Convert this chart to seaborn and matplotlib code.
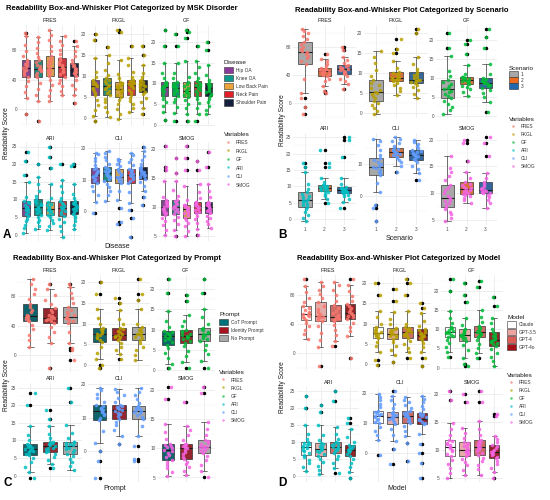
import numpy as np
import pandas as pd
import seaborn as sns
import matplotlib.pyplot as plt
from matplotlib.patches import Patch
from matplotlib.lines import Line2D

sns.set_theme(style="white")
plt.rcParams["font.family"] = ["Liberation Sans", "DejaVu Sans"]
np.random.seed(3)

# Readability measures (facets) and their colours
variables = ["FRES", "FKGL", "GF", "ARI", "CLI", "SMOG"]
var_colors = ["#F8766D", "#B79F00", "#00BA38", "#00BFC4", "#619CFF", "#F564E3"]

# y axis breaks per measure
fres_ticks = [0, 40, 80]
fkgl_ticks = [0, 5, 10, 15, 20]
gf_ticks = [0, 5, 10, 15, 20]
ari_ticks = [0, 5, 10, 15, 20, 25]
cli_ticks = [0, 10, 20]
smog_ticks = [5, 10, 15, 20]

# ---------------- A: MSK disorder ----------------
disease_groups = ["Hip OA", "Knee OA", "Low Back Pain", "Neck Pain", "Shoulder Pain"]
disease_colors = ["#8B3A9C", "#0E9A8A", "#EBA53A", "#E3202A", "#15203F"]
disease_fres = [
    [-6, 16, 24, 31, 38, 43, 46, 49, 51, 53, 55, 57, 59, 61, 63, 66, 71, 78, 86, 99, 103],
    [-16, 12, 20, 28, 36, 43, 46, 49, 51, 52.5, 54, 56, 58, 60, 63, 66, 70, 76, 83, 90, 97],
    [11, 18, 26, 33, 40, 45, 48, 50, 52, 54, 56, 59, 62, 65, 68, 72, 78, 85, 93, 100, 107],
    [20, 25, 31, 36, 40, 44, 47, 50, 52, 55, 57, 59, 61, 63, 66, 69, 74, 80, 86, 92, 98],
    [9, 20, 27, 33, 39, 45, 47, 49, 50, 51.5, 53, 54.5, 56, 58, 60, 62, 66, 72, 78, 85, 92],
]
disease_fkgl = [
    [-0.8, 0.5, 2, 3.2, 4.4, 5.4, 6, 6.5, 6.9, 7.2, 7.5, 7.8, 8.1, 8.4, 8.7, 9, 9.8, 11, 14.2, 18.5, 20],
    [0.3, 1.5, 2.7, 3.8, 4.6, 5.4, 6, 6.5, 6.9, 7.2, 7.5, 7.9, 8.3, 8.7, 9.1, 9.4, 10.2, 11.5, 13, 15, 16.8],
    [-0.3, 1, 2.2, 3.3, 4.2, 5, 5.5, 6, 6.4, 6.7, 7, 7.3, 7.6, 7.9, 8.3, 8.6, 9.4, 10.5, 13.8, 20.5, 21],
    [1.5, 2.5, 3.3, 4, 4.7, 5.4, 6.1, 6.7, 7.1, 7.5, 7.8, 8, 8.3, 8.5, 8.8, 9, 9.8, 11, 12.5, 14.2, 17],
    [1, 2.5, 3.8, 4.8, 5.6, 6.2, 6.7, 7, 7.3, 7.6, 7.8, 8, 8.2, 8.5, 8.8, 9, 9.7, 10.8, 12.5, 15, 17],
]
disease_gf = [
    [1.2, 3, 4.5, 5.5, 6.3, 7, 7.6, 8.1, 8.5, 8.8, 9.1, 9.3, 9.6, 9.9, 10.1, 10.3, 11.2, 12.5, 15, 19, 23],
    [1, 2.8, 4.3, 5.4, 6.3, 7, 7.5, 7.9, 8.2, 8.5, 8.8, 9.1, 9.4, 9.7, 10, 10.3, 11.2, 12.6, 15, 19, 22],
    [1, 2.6, 4, 5, 5.9, 6.6, 7.1, 7.5, 7.8, 8, 8.2, 8.5, 8.9, 9.4, 9.9, 10.3, 11.5, 15.5, 21, 22.5, 23],
    [0.8, 2.5, 4, 5.2, 6.2, 7, 7.6, 8.1, 8.5, 8.8, 9, 9.3, 9.6, 9.9, 10.2, 10.5, 11.4, 12.6, 14, 15.5, 19],
    [2.5, 3.6, 4.6, 5.5, 6.3, 7, 7.5, 7.9, 8.2, 8.5, 8.8, 9, 9.3, 9.5, 9.8, 10, 10.8, 12, 14.5, 18, 20],
]
disease_ari = [
    [0.5, 1.8, 2.9, 3.8, 4.6, 5.3, 6, 6.5, 6.9, 7.2, 7.5, 7.9, 8.4, 8.9, 9.3, 9.7, 10.8, 15, 17, 21, 23.5],
    [1.5, 2.6, 3.5, 4.2, 4.9, 5.5, 6.2, 6.8, 7.3, 7.7, 8, 8.3, 8.7, 9.1, 9.6, 10, 11, 12.5, 14.5, 16.5, 20],
    [1.3, 2.5, 3.4, 4.2, 4.9, 5.5, 6, 6.5, 6.8, 7.1, 7.4, 7.7, 8, 8.4, 8.8, 9.2, 10.3, 14.5, 19, 22, 25],
    [-0.5, 1.2, 2.6, 3.7, 4.6, 5.3, 5.9, 6.4, 6.8, 7.2, 7.5, 7.8, 8.2, 8.6, 9.1, 9.5, 10.5, 12, 13.8, 15.5, 20],
    [1.5, 2.8, 3.9, 4.7, 5.4, 6, 6.5, 7, 7.4, 7.7, 8, 8.3, 8.6, 8.9, 9.2, 9.5, 10.4, 11.6, 14.5, 19.5, 20],
]
disease_cli = [
    [-0.5, 3, 5, 6.5, 8, 9.1, 9.7, 10.3, 10.8, 11.2, 11.5, 11.9, 12.4, 12.9, 13.3, 13.7, 14.7, 15.8, 17, 18, 18.5],
    [3.2, 5, 6.5, 7.7, 8.7, 9.5, 10.1, 10.7, 11.2, 11.6, 12, 12.4, 12.8, 13.2, 13.6, 14, 15, 16.1, 17.2, 18.3, 19],
    [-4, -3.5, 1, 3.5, 6.5, 9, 9.5, 10, 10.4, 10.7, 11, 11.4, 11.9, 12.5, 13, 13.5, 14.3, 15, 15.8, 16.3, 16.5],
    [-8, -2, 0.5, 2.5, 6, 9, 9.6, 10.2, 10.7, 11.1, 11.5, 11.9, 12.3, 12.8, 13.2, 13.5, 14.5, 15.6, 16.7, 17.8, 18.5],
    [2, 4.5, 6.5, 8, 9.4, 10.3, 10.8, 11.2, 11.5, 11.8, 12, 12.3, 12.7, 13.1, 13.6, 14, 15, 16.2, 17.5, 19, 20.5],
]
disease_smog = [
    [5.2, 6.2, 7, 7.6, 8.2, 8.7, 9, 9.3, 9.5, 9.8, 10, 10.2, 10.5, 10.7, 11, 11.2, 11.8, 14.5, 16.5, 17, 20.5],
    [5, 6.2, 7.1, 7.8, 8.4, 8.9, 9.2, 9.4, 9.7, 9.9, 10.1, 10.3, 10.6, 10.8, 11.1, 11.3, 12, 13, 14.5, 16, 18.5],
    [5, 6, 6.8, 7.4, 7.8, 8.2, 8.7, 9, 9.3, 9.6, 9.8, 9.9, 10.1, 10.2, 10.4, 10.5, 11.3, 13.7, 16.5, 18.5, 20.5],
    [5.2, 6.3, 7.3, 8, 8.6, 9, 9.3, 9.6, 9.8, 10, 10.2, 10.4, 10.6, 10.7, 10.9, 11, 11.7, 12.6, 14, 16.5, 18],
    [6.5, 7.1, 7.7, 8.2, 8.6, 9, 9.2, 9.4, 9.6, 9.8, 10, 10.2, 10.4, 10.6, 10.8, 11, 11.8, 12.8, 14, 17, 19.5],
]

# ---------------- B: Scenario ----------------
scenario_groups = ["1", "2", "3"]
scenario_colors = ["#A8A8A8", "#EE6A1F", "#2268AE"]
scenario_fres = [
    [-15, -5, 8, 15, 35, 56, 60, 64, 67, 70, 72, 74, 77, 80, 84, 87, 91, 95, 99, 102, 105],
    [15, 18, 25, 31, 35, 38, 40, 42, 43, 44, 45, 46, 47, 48, 49, 50, 53, 56, 60, 63, 70],
    [20, 27, 32, 35, 38, 41, 43, 44.5, 46, 47, 48, 49, 50, 51.5, 53, 54, 57, 61, 66, 75, 80],
]
scenario_fkgl = [
    [-0.3, 0.5, 1.2, 1.8, 2.4, 3, 3.6, 4.1, 4.6, 5, 5.3, 5.8, 6.3, 6.9, 7.5, 8.1, 9.2, 10.8, 12.5, 14, 15.5],
    [4.5, 5.5, 6.3, 6.9, 7.4, 7.9, 8.1, 8.3, 8.5, 8.7, 8.8, 9, 9.3, 9.6, 10, 10.3, 11.2, 13, 15, 16, 18.5],
    [3.7, 4.8, 5.7, 6.4, 7, 7.5, 7.7, 7.9, 8, 8.2, 8.3, 8.6, 9, 9.4, 9.8, 10.1, 11, 12.2, 14, 20, 21],
]
scenario_gf = [
    [0.5, 1.5, 2.4, 3.2, 4, 4.8, 5.3, 5.8, 6.2, 6.6, 7, 7.4, 7.9, 8.4, 8.9, 9.4, 10.5, 12, 16, 18, 22],
    [5.2, 6.2, 7, 7.5, 7.9, 8.3, 8.6, 8.9, 9.1, 9.3, 9.5, 9.7, 9.9, 10.1, 10.3, 10.4, 11.2, 13.5, 16.5, 19, 20],
    [1, 3.6, 5, 6, 6.8, 7.4, 7.8, 8.1, 8.3, 8.6, 8.8, 9, 9.2, 9.5, 9.8, 10, 11, 13.8, 18, 21, 23],
]
scenario_ari = [
    [-0.5, 0.5, 1.3, 2.1, 3, 3.8, 4.3, 4.7, 5.1, 5.5, 5.8, 6.2, 6.7, 7.2, 7.7, 8.2, 9.2, 10.8, 14.5, 16, 17],
    [5, 6.2, 7.2, 7.8, 8.3, 8.7, 8.9, 9.1, 9.2, 9.4, 9.5, 9.7, 9.9, 10.1, 10.3, 10.5, 11.3, 12.5, 16, 17, 21],
    [3.5, 5.2, 6.3, 7, 7.5, 7.9, 8.1, 8.3, 8.5, 8.7, 8.8, 9, 9.2, 9.4, 9.6, 9.8, 10.7, 12.5, 19, 24, 25],
]
scenario_cli = [
    [-8, -4, -3, 1, 4, 6.4, 7, 7.6, 8.1, 8.6, 9, 9.5, 10, 10.6, 11.2, 11.8, 13, 14.5, 16, 17.2, 18],
    [7.5, 9.5, 10.5, 11.2, 11.8, 12.3, 12.7, 13, 13.3, 13.6, 13.8, 14, 14.3, 14.5, 14.8, 15, 15.7, 16.5, 17.3, 18, 18.5],
    [5, 7, 8.5, 9.5, 10.5, 11.2, 11.7, 12.1, 12.4, 12.7, 13, 13.3, 13.6, 13.9, 14.2, 14.4, 15, 15.7, 16.4, 17, 17.5],
]
scenario_smog = [
    [4.8, 5.4, 6, 6.5, 7, 7.4, 7.8, 8.2, 8.5, 8.8, 9.1, 9.5, 10, 10.5, 11, 11.6, 12.4, 13.2, 14, 14.8, 17],
    [8.2, 8.7, 9.1, 9.4, 9.6, 9.8, 10, 10.2, 10.4, 10.6, 10.7, 10.9, 11.2, 11.5, 11.8, 12.1, 12.8, 14, 16, 19.5, 20],
    [7.3, 8.2, 8.8, 9.3, 9.7, 10, 10.1, 10.2, 10.3, 10.4, 10.5, 10.7, 11, 11.3, 11.7, 12, 12.8, 13.7, 17, 19.5, 20.5],
]

# ---------------- C: Prompt ----------------
prompt_groups = ["CoT Prompt", "Identity Prompt", "No Prompt"]
prompt_colors = ["#00707A", "#A8121E", "#A9A9A9"]
prompt_fres = [
    [11, 20, 28, 35, 41, 46, 48, 49.5, 51, 52, 53, 55, 58, 61, 65, 70, 76, 83, 90, 97, 103],
    [-17, 16, 24, 31, 38, 44, 46, 47.5, 49, 50, 51, 53, 55, 58, 61, 64, 69, 75, 82, 90, 97],
    [-7, 7, 10, 16, 32, 44, 46, 48, 50, 51, 52, 54, 56, 59, 62, 65, 71, 78, 85, 92, 97],
]
prompt_fkgl = [
    [-0.5, 0, 1.5, 3, 4.4, 5.6, 6.1, 6.6, 6.9, 7.2, 7.5, 7.8, 8.1, 8.4, 8.7, 8.9, 9.8, 11.2, 13.5, 17, 20],
    [1.5, 2.7, 3.7, 4.5, 5.3, 6, 6.4, 6.7, 6.9, 7.1, 7.3, 7.6, 7.9, 8.3, 8.6, 8.9, 9.8, 11, 13.2, 15, 16],
    [1.4, 2.6, 3.6, 4.5, 5.3, 6, 6.5, 6.9, 7.2, 7.4, 7.6, 7.9, 8.2, 8.5, 8.8, 9.1, 10, 13.5, 15.5, 17, 20.5],
]
prompt_gf = [
    [0.5, 1.3, 2.9, 4.1, 5.3, 6.25, 6.8, 7.3, 7.7, 8, 8.3, 8.5, 8.8, 9.1, 9.4, 9.6, 10.6, 12, 14.5, 19, 22.5],
    [0.5, 2, 3.5, 4.7, 5.8, 6.7, 7.2, 7.6, 7.9, 8.2, 8.4, 8.7, 9, 9.3, 9.7, 10, 10.9, 12, 13.5, 17, 18.5],
    [0.5, 2.2, 3.8, 5, 6.2, 7.1, 7.6, 8, 8.3, 8.6, 8.9, 9.2, 9.5, 9.8, 10.1, 10.4, 11.4, 13, 15.2, 19, 22.5],
]
prompt_ari = [
    [-0.5, 1, 2.5, 3.8, 4.9, 5.8, 6.3, 6.7, 7, 7.3, 7.5, 7.8, 8.1, 8.5, 8.8, 9.1, 10, 11.5, 14, 20, 23.5],
    [2.2, 3.4, 4.5, 5.3, 6.1, 6.7, 7.1, 7.5, 7.8, 8, 8.3, 8.6, 8.9, 9.2, 9.5, 9.7, 10.6, 11.8, 14, 16, 18.5],
    [1.5, 2.8, 3.9, 4.8, 5.6, 6.3, 6.8, 7.3, 7.7, 8, 8.3, 8.6, 8.9, 9.2, 9.5, 9.7, 10.7, 12, 14.5, 21, 25],
]
prompt_cli = [
    [-8, -3, 0, 2.5, 6, 9.2, 10, 10.7, 11.2, 11.6, 12, 12.3, 12.7, 13, 13.4, 13.7, 14.8, 16, 17.2, 18.2, 19],
    [2, 4.5, 6.3, 7.7, 8.8, 9.7, 10.4, 11, 11.5, 11.9, 12.3, 12.6, 12.9, 13.2, 13.5, 13.7, 14.7, 15.8, 16.8, 17.7, 18.5],
    [-3, -2.5, 1.5, 4.5, 7.5, 9.7, 10.3, 10.8, 11.3, 11.7, 12, 12.3, 12.6, 12.9, 13.2, 13.4, 14.5, 15.6, 16.7, 17.8, 18.9],
]
prompt_smog = [
    [5.3, 6, 6.6, 7.1, 7.6, 8, 8.5, 8.9, 9.2, 9.5, 9.8, 10, 10.2, 10.4, 10.6, 10.8, 11.6, 12.8, 14.2, 18.5, 20.5],
    [5.5, 6.2, 6.8, 7.3, 7.7, 8.1, 8.6, 9, 9.4, 9.7, 10, 10.2, 10.4, 10.5, 10.7, 10.8, 11.5, 12.4, 13.2, 13.8, 18],
    [5, 6.2, 7.2, 8, 8.7, 9.3, 9.6, 9.8, 10, 10.2, 10.3, 10.5, 10.8, 11, 11.3, 11.5, 12.3, 13.4, 14.5, 19.5, 20.5],
]

# ---------------- D: Model ----------------
model_groups = ["Claude", "GPT-3.5", "GPT-4", "GPT-4o"]
model_colors = ["#FFFFFF", "#EFA3A0", "#DD5C56", "#A50F15"]
model_fres = [
    [20, 26, 32, 37, 42, 45.6, 47.5, 49, 50.5, 52, 53, 55, 57, 59.5, 62, 65, 70, 76, 83, 92, 101],
    [-17, 8, 18, 28, 37, 44, 46, 47.5, 49, 50, 51, 53.5, 56, 60, 65, 70, 75, 81, 87, 92, 97],
    [10, 17, 25, 32, 38, 44, 45.5, 47, 48, 49, 50, 52, 55, 58, 62, 66, 72, 79, 86, 93, 98],
    [-7, 23, 30, 36, 42, 47, 49, 51, 52.5, 54, 55, 57, 59, 61.5, 64, 67, 72, 78, 85, 93, 101],
]
model_fkgl = [
    [-0.3, 1, 3, 4.4, 5.5, 6.3, 6.7, 7, 7.2, 7.4, 7.6, 7.9, 8.2, 8.5, 8.8, 9.1, 10, 11.5, 13.2, 17, 20],
    [0.5, 2.2, 3.5, 4.5, 5.4, 6.2, 6.6, 6.9, 7.1, 7.3, 7.5, 7.8, 8.1, 8.4, 8.7, 8.9, 9.8, 11, 12.9, 15.5, 18.5],
    [1.5, 2.8, 3.9, 4.8, 5.6, 6.3, 6.8, 7.1, 7.4, 7.6, 7.8, 8.1, 8.4, 8.7, 8.9, 9.1, 10, 13.2, 17, 20, 21],
    [-0.5, 1.5, 3, 4.2, 5.2, 6, 6.3, 6.6, 6.8, 7, 7.1, 7.4, 7.7, 8, 8.4, 8.7, 9.5, 10.6, 12.5, 13.8, 15],
]
model_gf = [
    [2.7, 4, 5.3, 6.3, 7.1, 7.9, 8.3, 8.6, 8.9, 9.1, 9.3, 9.6, 9.9, 10.2, 10.4, 10.7, 11.7, 13, 14.8, 20, 23],
    [0.5, 1, 2.5, 4.5, 5.8, 6.9, 7.4, 7.8, 8.1, 8.3, 8.5, 8.8, 9.1, 9.4, 9.7, 10, 11, 13, 17, 19, 22],
    [2.5, 3.8, 5.1, 6.2, 7.1, 7.9, 8.3, 8.6, 8.8, 9, 9.2, 9.5, 9.8, 10.2, 10.5, 10.8, 11.8, 13.3, 15, 21, 22.5],
    [0.5, 1.7, 2.8, 3.8, 4.8, 5.7, 6.1, 6.5, 6.8, 7, 7.2, 7.5, 7.9, 8.3, 8.7, 9.2, 10.1, 11.5, 13, 16, 18.5],
]
model_ari = [
    [1.5, 2.7, 3.8, 4.7, 5.5, 6.3, 6.9, 7.4, 7.8, 8.2, 8.5, 8.8, 9.1, 9.4, 9.7, 10, 11, 12.5, 15, 20, 23.5],
    [0.5, 1.8, 3, 4, 5, 6, 6.6, 7.1, 7.5, 7.8, 8.1, 8.4, 8.7, 9, 9.4, 9.7, 10.7, 12, 15, 19, 21],
    [1, 2.5, 3.8, 4.9, 6, 6.9, 7.4, 7.8, 8.1, 8.4, 8.6, 8.9, 9.2, 9.5, 9.8, 10, 11, 12.5, 14.5, 22, 25],
    [-0.5, 1.3, 2.7, 3.8, 5, 6, 6.5, 7, 7.3, 7.6, 7.8, 8.1, 8.4, 8.7, 9, 9.2, 10.1, 11.4, 13.8, 15.5, 17],
]
model_cli = [
    [-0.5, 4.3, 6, 7.5, 8.8, 9.9, 10.5, 11, 11.5, 11.9, 12.3, 12.7, 13.1, 13.5, 13.8, 14.1, 15.2, 16.4, 17.6, 18.6, 19.5],
    [-3.5, 1.5, 4, 6.2, 8, 9.6, 10.3, 10.9, 11.4, 11.8, 12.1, 12.4, 12.8, 13.1, 13.5, 13.8, 15, 16.3, 17.6, 18.8, 20.5],
    [-2.5, 3.5, 5.8, 7.5, 9, 10.1, 10.7, 11.2, 11.7, 12.1, 12.4, 12.7, 13.1, 13.5, 13.8, 14.1, 15.1, 16.1, 17, 17.8, 18.5],
    [-8, -3, 0, 3, 6.5, 9.6, 10.1, 10.5, 10.9, 11.2, 11.5, 11.9, 12.3, 12.7, 13.1, 13.5, 14.6, 15.8, 17, 18, 19],
]
model_smog = [
    [5, 5.8, 6.7, 7.4, 8.2, 8.9, 9.3, 9.7, 10, 10.3, 10.5, 10.8, 11.1, 11.3, 11.6, 11.8, 12.6, 13.7, 14.8, 19, 20.5],
    [5.5, 6.4, 7.2, 7.8, 8.4, 8.9, 9.2, 9.4, 9.6, 9.8, 10, 10.3, 10.6, 10.9, 11.2, 11.4, 12.1, 13, 14, 18.5, 20],
    [5.5, 6.5, 7.3, 8, 8.6, 9.1, 9.5, 9.8, 10.1, 10.3, 10.5, 10.8, 11.1, 11.3, 11.6, 11.8, 12.7, 13.8, 15.2, 18.5, 20.5],
    [5, 6, 6.8, 7.4, 8, 8.6, 8.8, 9, 9.2, 9.4, 9.6, 9.8, 10, 10.3, 10.6, 10.8, 11.4, 12, 12.5, 16, 16.5],
]

all_ticks = [fres_ticks, fkgl_ticks, gf_ticks, ari_ticks, cli_ticks, smog_ticks]

# layout, in pixels of the 550x500 figure (top-left origin)
W, H = 550, 500
fig = plt.figure(figsize=(W / 100, H / 100), dpi=100)

panels = [
    dict(groups=disease_groups, colors=disease_colors,
         data=[disease_fres, disease_fkgl, disease_gf, disease_ari, disease_cli, disease_smog],
         title="Readability Box-and-Whisker Plot Categorized by MSK Disorder",
         xlabel="Disease", letter="A", xticks=False,
         title_xy=(122, 8), cols=[(19, 81), (88, 150), (158, 215)], rows=[(25, 126), (142, 241)],
         ylabel_xy=(6, 133), xlabel_xy=(117, 246), letter_xy=(3, 241),
         leg1=(224, 60), leg2=(224, 132), row1=9.6, row2=10.0),
    dict(groups=scenario_groups, colors=scenario_colors,
         data=[scenario_fres, scenario_fkgl, scenario_gf, scenario_ari, scenario_cli, scenario_smog],
         title="Readability Box-and-Whisker Plot Categorized by Scenario",
         xlabel="Scenario", letter="B", xticks=True,
         title_xy=(402, 10), cols=[(293, 356), (364, 428), (436, 497)], rows=[(25, 118), (133, 225)],
         ylabel_xy=(282, 120), xlabel_xy=(400, 239), letter_xy=(278, 241),
         leg1=(509, 66), leg2=(509, 117), row1=7.6, row2=9.4),
    dict(groups=prompt_groups, colors=prompt_colors,
         data=[prompt_fres, prompt_fkgl, prompt_gf, prompt_ari, prompt_cli, prompt_smog],
         title="Readability Box-and-Whisker Plot Categorized by Prompt",
         xlabel="Prompt", letter="C", xticks=False,
         title_xy=(117, 259), cols=[(18, 82), (88, 150), (157, 215)], rows=[(275, 372), (383, 482)],
         ylabel_xy=(6, 385), xlabel_xy=(115, 488), letter_xy=(3, 489),
         leg1=(219, 312), leg2=(219, 370), row1=9.5, row2=9.6),
    dict(groups=model_groups, colors=model_colors,
         data=[model_fres, model_fkgl, model_gf, model_ari, model_cli, model_smog],
         title="Readability Box-and-Whisker Plot Categorized by Model",
         xlabel="Model", letter="D", xticks=False,
         title_xy=(399, 259), cols=[(297, 359), (369, 431), (441, 503)], rows=[(275, 370), (387, 482)],
         ylabel_xy=(282, 387), xlabel_xy=(397, 489), letter_xy=(278, 489),
         leg1=(507, 315), leg2=(507, 373), row1=9.0, row2=9.4),
]


def add_ax(x0, y0, x1, y1):
    return fig.add_axes([x0 / W, 1 - y1 / H, (x1 - x0) / W, (y1 - y0) / H])


def draw_facet(ax, groups, colors, values, var, vcolor, ticks, show_xt):
    df = pd.DataFrame({
        "group": np.repeat(groups, [len(v) for v in values]),
        "value": np.concatenate(values),
    })
    sns.boxplot(data=df, x="group", y="value", hue="group", order=groups,
                hue_order=groups, palette=colors, width=0.7, linewidth=0.45,
                linecolor="#262626", fliersize=1.5, legend=False, ax=ax,
                flierprops=dict(marker="o", markerfacecolor="black",
                                markeredgecolor="black"),
                medianprops=dict(linewidth=0.8, color="#1a1a1a"))
    sns.stripplot(data=df, x="group", y="value", order=groups, color=vcolor,
                  jitter=0.24, size=2.6, alpha=0.85, linewidth=0, ax=ax, zorder=3)
    lo, hi = df["value"].min(), df["value"].max()
    pad = (hi - lo) * 0.05
    ax.set_xlim(-0.6, len(groups) - 0.4)
    ax.set_yticks(ticks)
    step = ticks[1] - ticks[0]
    ax.set_yticks([t + step / 2 for t in [ticks[0] - step] + ticks], minor=True)
    ax.set_ylim(lo - pad, hi + pad)
    ax.grid(True, which="major", color="#EBEBEB", linewidth=0.6)
    ax.grid(True, which="minor", axis="y", color="#F3F3F3", linewidth=0.35)
    ax.set_axisbelow(True)
    for s in ax.spines.values():
        s.set_visible(False)
    ax.tick_params(axis="both", which="both", length=0, pad=1.2,
                   labelsize=3.4, labelcolor="#4D4D4D")
    if not show_xt:
        ax.set_xticklabels([])
    ax.set_xlabel("")
    ax.set_ylabel("")
    ax.set_title(var, fontsize=3.9, color="#1A1A1A", pad=1.8)


for p in panels:
    for i, var in enumerate(variables):
        r, c = divmod(i, 3)
        x0, x1 = p["cols"][c]
        y0, y1 = p["rows"][r]
        ax = add_ax(x0, y0, x1, y1)
        draw_facet(ax, p["groups"], p["colors"], p["data"][i], var, var_colors[i],
                   all_ticks[i], p["xticks"] and r == 1)

    tx, ty = p["title_xy"]
    fig.text(tx / W, 1 - ty / H, p["title"], ha="center", va="center",
             fontsize=5.5, fontweight="bold", color="black")
    lx, ly = p["ylabel_xy"]
    fig.text(lx / W, 1 - ly / H, "Readability Score", rotation=90, ha="center",
             va="center", fontsize=4.8, color="#1A1A1A")
    xx, xy = p["xlabel_xy"]
    fig.text(xx / W, 1 - xy / H, p["xlabel"], ha="center", va="center",
             fontsize=5.0, color="#1A1A1A")
    ex, ey = p["letter_xy"]
    fig.text(ex / W, 1 - ey / H, p["letter"], ha="left", va="bottom",
             fontsize=8.5, fontweight="bold", color="black")

    fs = 3.4
    hh = 1.6
    box_handles = [Patch(facecolor=col, edgecolor="#333333", linewidth=0.4)
                   for col in p["colors"]]
    sp1 = p["row1"] / 1.389 / fs - hh
    leg = fig.legend(box_handles, p["groups"], title=p["xlabel"], loc="upper left",
                     bbox_to_anchor=(p["leg1"][0] / W, 1 - p["leg1"][1] / H),
                     frameon=False, fontsize=fs, title_fontsize=4.6,
                     handlelength=1.9, handleheight=hh, labelspacing=sp1,
                     handletextpad=0.6, borderpad=0, borderaxespad=0,
                     alignment="left")
    leg.get_title().set_color("#1A1A1A")
    for t in leg.get_texts():
        t.set_color("#333333")

    var_handles = [Line2D([], [], marker="o", linestyle="", markersize=1.8,
                          markerfacecolor=col, markeredgewidth=0, alpha=0.7)
                   for col in var_colors]
    sp2 = p["row2"] / 1.389 / fs - hh
    leg2 = fig.legend(var_handles, variables, title="Variables", loc="upper left",
                      bbox_to_anchor=(p["leg2"][0] / W, 1 - p["leg2"][1] / H),
                      frameon=False, fontsize=fs, title_fontsize=4.6,
                      handlelength=1.9, handleheight=hh, labelspacing=sp2,
                      handletextpad=0.6, borderpad=0, borderaxespad=0,
                      alignment="left")
    leg2.get_title().set_color("#1A1A1A")
    for t in leg2.get_texts():
        t.set_color("#333333")

fig.savefig("out.png", dpi=100, facecolor="white")
